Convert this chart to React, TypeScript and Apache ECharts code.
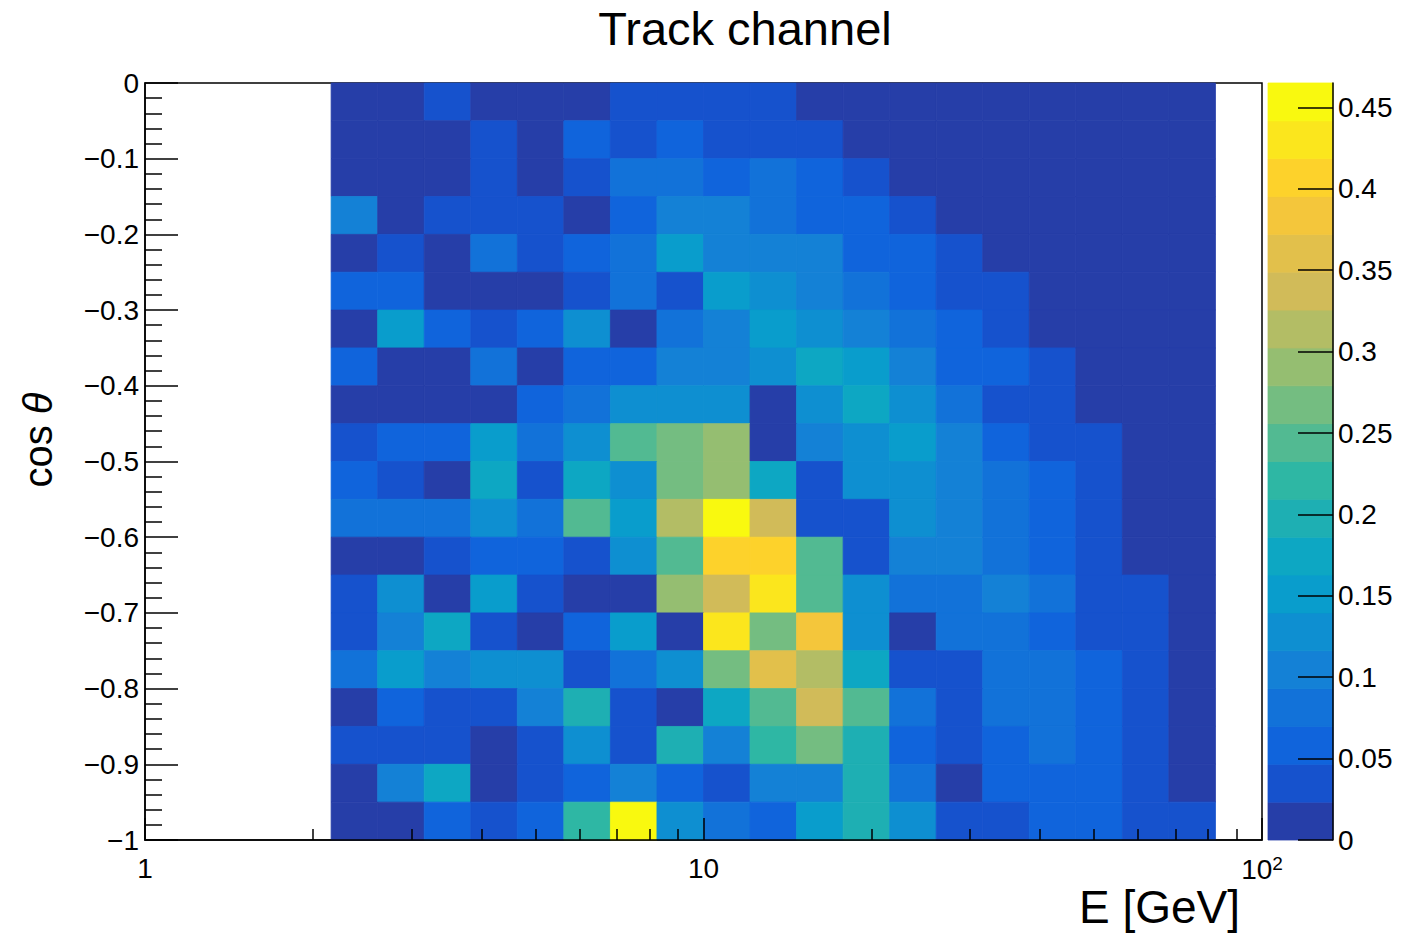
import React, { useEffect, useRef } from "react";
import * as echarts from "echarts";

// Bin edges of the energy axis (1/12 of a decade per bin), GeV
const energyEdges = [
  2.154, 2.61, 3.162, 3.831, 4.642, 5.623, 6.813, 8.254, 10, 12.115, 14.678,
  17.783, 21.544, 26.102, 31.623, 38.312, 46.416, 56.234, 68.129, 82.54,
];

// Bin edges of cos(theta), from the top row down
const cosThetaEdges = [
  0, -0.05, -0.1, -0.15, -0.2, -0.25, -0.3, -0.35, -0.4, -0.45, -0.5, -0.55,
  -0.6, -0.65, -0.7, -0.75, -0.8, -0.85, -0.9, -0.95, -1,
];

// Bin contents, one row per cos(theta) bin (top row first), one column per energy bin
const trackRows: number[][] = [
  [0.01, 0.01, 0.035, 0.01, 0.01, 0.01, 0.035, 0.035, 0.035, 0.035, 0.01, 0.01, 0.01, 0.01, 0.01, 0.01, 0.01, 0.01, 0.01],
  [0.01, 0.01, 0.01, 0.035, 0.01, 0.058, 0.035, 0.058, 0.035, 0.035, 0.035, 0.01, 0.01, 0.01, 0.01, 0.01, 0.01, 0.01, 0.01],
  [0.01, 0.01, 0.01, 0.035, 0.01, 0.035, 0.081, 0.081, 0.058, 0.081, 0.058, 0.035, 0.01, 0.01, 0.01, 0.01, 0.01, 0.01, 0.01],
  [0.105, 0.01, 0.035, 0.035, 0.035, 0.01, 0.058, 0.105, 0.105, 0.081, 0.058, 0.058, 0.035, 0.01, 0.01, 0.01, 0.01, 0.01, 0.01],
  [0.01, 0.035, 0.01, 0.081, 0.035, 0.058, 0.081, 0.151, 0.105, 0.105, 0.105, 0.058, 0.058, 0.035, 0.01, 0.01, 0.01, 0.01, 0.01],
  [0.058, 0.058, 0.01, 0.01, 0.01, 0.035, 0.081, 0.035, 0.151, 0.128, 0.105, 0.081, 0.058, 0.035, 0.035, 0.01, 0.01, 0.01, 0.01],
  [0.01, 0.151, 0.058, 0.035, 0.058, 0.128, 0.01, 0.081, 0.105, 0.151, 0.128, 0.105, 0.081, 0.058, 0.035, 0.01, 0.01, 0.01, 0.01],
  [0.058, 0.01, 0.01, 0.081, 0.01, 0.058, 0.058, 0.105, 0.105, 0.128, 0.174, 0.151, 0.105, 0.058, 0.058, 0.035, 0.01, 0.01, 0.01],
  [0.01, 0.01, 0.01, 0.01, 0.058, 0.081, 0.128, 0.128, 0.128, 0.01, 0.128, 0.174, 0.128, 0.081, 0.035, 0.035, 0.01, 0.01, 0.01],
  [0.035, 0.058, 0.058, 0.151, 0.081, 0.128, 0.244, 0.267, 0.291, 0.01, 0.105, 0.128, 0.151, 0.105, 0.058, 0.035, 0.035, 0.01, 0.01],
  [0.058, 0.035, 0.01, 0.174, 0.035, 0.174, 0.128, 0.267, 0.291, 0.174, 0.035, 0.128, 0.128, 0.105, 0.081, 0.058, 0.035, 0.01, 0.01],
  [0.081, 0.081, 0.081, 0.128, 0.081, 0.244, 0.151, 0.314, 0.465, 0.337, 0.035, 0.035, 0.128, 0.105, 0.081, 0.058, 0.035, 0.01, 0.01],
  [0.01, 0.01, 0.035, 0.058, 0.058, 0.035, 0.128, 0.244, 0.407, 0.407, 0.244, 0.035, 0.105, 0.105, 0.081, 0.058, 0.035, 0.01, 0.01],
  [0.035, 0.128, 0.01, 0.151, 0.035, 0.01, 0.01, 0.291, 0.337, 0.43, 0.244, 0.128, 0.081, 0.081, 0.105, 0.081, 0.035, 0.035, 0.01],
  [0.035, 0.105, 0.174, 0.035, 0.01, 0.058, 0.151, 0.01, 0.43, 0.267, 0.384, 0.128, 0.01, 0.081, 0.081, 0.058, 0.035, 0.035, 0.01],
  [0.081, 0.151, 0.105, 0.128, 0.128, 0.035, 0.081, 0.128, 0.267, 0.36, 0.314, 0.174, 0.035, 0.035, 0.081, 0.081, 0.058, 0.035, 0.01],
  [0.01, 0.058, 0.035, 0.035, 0.105, 0.198, 0.035, 0.01, 0.174, 0.244, 0.337, 0.244, 0.081, 0.035, 0.081, 0.081, 0.058, 0.035, 0.01],
  [0.035, 0.035, 0.035, 0.01, 0.035, 0.128, 0.035, 0.198, 0.105, 0.221, 0.267, 0.198, 0.058, 0.035, 0.058, 0.081, 0.058, 0.035, 0.01],
  [0.01, 0.105, 0.174, 0.01, 0.035, 0.058, 0.105, 0.058, 0.035, 0.105, 0.105, 0.198, 0.081, 0.01, 0.058, 0.058, 0.058, 0.035, 0.01],
  [0.01, 0.01, 0.058, 0.035, 0.058, 0.221, 0.458, 0.128, 0.081, 0.058, 0.151, 0.198, 0.128, 0.035, 0.035, 0.058, 0.058, 0.035, 0.035],
];

// Z range of the colour scale and its number of contour levels
const zMin = 0;
const zMax = 0.465;
const nContours = 20;

// Axis ticks
const xMajorTicks = [1, 10, 100];
const xMinorTicks = [2, 3, 4, 5, 6, 7, 8, 9, 20, 30, 40, 50, 60, 70, 80, 90];
const paletteTicks = [0, 0.05, 0.1, 0.15, 0.2, 0.25, 0.3, 0.35, 0.4, 0.45];

// "Bird" colour map stops
const birdStops = [0, 0.125, 0.25, 0.375, 0.5, 0.625, 0.75, 0.875, 1];
const birdRed = [0.2082, 0.0592, 0.078, 0.0232, 0.1802, 0.5301, 0.8186, 0.9956, 0.9764];
const birdGreen = [0.1664, 0.3599, 0.5041, 0.6419, 0.7178, 0.7492, 0.7328, 0.7862, 0.9832];
const birdBlue = [0.5293, 0.8684, 0.8385, 0.7914, 0.6425, 0.4662, 0.3499, 0.1968, 0.0539];

const FONT = "'Liberation Sans', Arial, Helvetica, sans-serif";

// Colour of entry `index` (0..254) of a 255-step gradient through the stops
function gradientColor(index: number): string {
  const n = 255;
  for (let g = 1; g < birdStops.length; g++) {
    const lo = Math.floor(n * birdStops[g - 1]);
    const hi = Math.floor(n * birdStops[g]);
    if (index < hi || g === birdStops.length - 1) {
      const t = (index - lo) / (hi - lo);
      const ch = (a: number[]) =>
        Math.round(255 * (a[g - 1] + t * (a[g] - a[g - 1])));
      return `rgb(${ch(birdRed)},${ch(birdGreen)},${ch(birdBlue)})`;
    }
  }
  return "#000";
}

// One colour per contour level
const contourColors = Array.from({ length: nContours }, (_, i) =>
  gradientColor(Math.min(254, Math.floor(((i + 0.99) * 255) / nContours)))
);

export default function App() {
  const ref = useRef<HTMLDivElement>(null);

  useEffect(() => {
    document.body.style.margin = "0";
    if (!ref.current) return;
    const chart = echarts.init(ref.current, undefined, { renderer: "svg" });

    const step = (zMax - zMin) / nContours;
    const pieces = contourColors.map((color, i) =>
      i === nContours - 1
        ? { gte: zMin + i * step, lte: zMax, color }
        : { gte: zMin + i * step, lt: zMin + (i + 1) * step, color }
    );

    // Cells: [E low, E high, cos low, cos high, content]
    const cells: number[][] = [];
    trackRows.forEach((row, r) => {
      row.forEach((z, c) => {
        if (z > 0)
          cells.push([
            energyEdges[c],
            energyEdges[c + 1],
            cosThetaEdges[r + 1],
            cosThetaEdges[r],
            z,
          ]);
      });
    });

    // Colour bar bands: [0, 1, z low, z high, z mid]
    const bands = contourColors.map((_, i) => [
      0,
      1,
      zMin + i * step,
      zMin + (i + 1) * step,
      zMin + (i + 0.5) * step,
    ]);

    const renderRect = (_params: any, api: any) => {
      const p0 = api.coord([api.value(0), api.value(3)]);
      const p1 = api.coord([api.value(1), api.value(2)]);
      const color = api.visual("color");
      return {
        type: "rect",
        shape: { x: p0[0], y: p0[1], width: p1[0] - p0[0], height: p1[1] - p0[1] },
        style: { fill: color, stroke: color, lineWidth: 0.8 },
      };
    };

    const labelStyle = { fontFamily: FONT, fontSize: 28, color: "#000" };
    const lineStyle = { color: "#000", width: 1.5 };

    chart.setOption({
      animation: false,
      backgroundColor: "#fff",
      title: {
        text: "Track channel",
        left: 740,
        top: 0,
        textAlign: "center",
        textStyle: { fontFamily: FONT, fontSize: 47, fontWeight: "normal", color: "#000" },
      },
      grid: [
        { left: 145, top: 83, width: 1117, height: 757, show: true, borderColor: "#000", borderWidth: 1.5 },
        { left: 1268, top: 83, width: 65, height: 757 },
      ],
      xAxis: [
        {
          type: "log",
          logBase: 10,
          gridIndex: 0,
          min: 1,
          max: 100,
          position: "bottom",
          z: 5,
          axisLine: { show: true, onZero: false, lineStyle },
          axisTick: { show: true, inside: true, length: 22, customValues: xMajorTicks, lineStyle },
          axisLabel: {
            ...labelStyle,
            margin: 14,
            customValues: xMajorTicks,
            formatter: (v: number) =>
              Math.round(v) === 100 ? "{n|10}{s|2}" : String(Math.round(v)),
            rich: {
              n: { fontFamily: FONT, fontSize: 28, color: "#000", lineHeight: 30 },
              s: { fontFamily: FONT, fontSize: 19, color: "#000", verticalAlign: "top", lineHeight: 18 },
            },
          },
          splitLine: { show: false },
        },
        {
          type: "log",
          logBase: 10,
          gridIndex: 0,
          min: 1,
          max: 100,
          position: "bottom",
          z: 5,
          axisLine: { show: false, onZero: false },
          axisTick: { show: true, inside: true, length: 11, customValues: xMinorTicks, lineStyle },
          axisLabel: { show: false },
          splitLine: { show: false },
        },
        { type: "value", gridIndex: 1, min: 0, max: 1, show: false },
      ],
      yAxis: [
        {
          type: "value",
          gridIndex: 0,
          min: -1,
          max: 0,
          interval: 0.1,
          z: 5,
          axisLine: { show: true, onZero: false, lineStyle },
          axisTick: { show: true, inside: true, length: 33, lineStyle },
          minorTick: { show: true, splitNumber: 5, length: 17, lineStyle },
          axisLabel: {
            ...labelStyle,
            margin: 6,
            formatter: (v: number) => {
              const t = Number(v.toFixed(2));
              return t === 0 ? "0" : String(t).replace("-", "\u2212");
            },
          },
          splitLine: { show: false },
        },
        {
          type: "value",
          gridIndex: 1,
          min: zMin,
          max: zMax,
          position: "right",
          z: 5,
          axisLine: { show: true, onZero: false, lineStyle },
          axisTick: { show: true, inside: true, length: 35, customValues: paletteTicks, lineStyle },
          axisLabel: { ...labelStyle, margin: 5, customValues: paletteTicks },
          splitLine: { show: false },
        },
      ],
      visualMap: {
        type: "piecewise",
        show: false,
        dimension: 4,
        seriesIndex: [0, 1],
        pieces,
      },
      series: [
        {
          type: "custom",
          xAxisIndex: 0,
          yAxisIndex: 0,
          renderItem: renderRect,
          encode: { x: [0, 1], y: [2, 3] },
          data: cells,
        },
        {
          type: "custom",
          xAxisIndex: 2,
          yAxisIndex: 1,
          renderItem: renderRect,
          encode: { x: [0, 1], y: [2, 3] },
          data: bands,
        },
      ],
      graphic: [
        {
          type: "text",
          x: 1240,
          y: 907,
          style: {
            text: "E [GeV]",
            fontFamily: FONT,
            fontSize: 46,
            fill: "#000",
            align: "right",
            verticalAlign: "middle",
          },
        },
        {
          type: "text",
          x: 38,
          y: 440,
          rotation: Math.PI / 2,
          style: {
            text: "{a|cos }{b|\u03b8}",
            align: "center",
            verticalAlign: "middle",
            rich: {
              a: { fontFamily: FONT, fontSize: 40, fill: "#000" },
              b: { fontFamily: FONT, fontSize: 40, fontStyle: "italic", fill: "#000" },
            },
          },
        },
      ],
    });

    return () => chart.dispose();
  }, []);

  return <div ref={ref} style={{ width: 1425, height: 933 }} />;
}
